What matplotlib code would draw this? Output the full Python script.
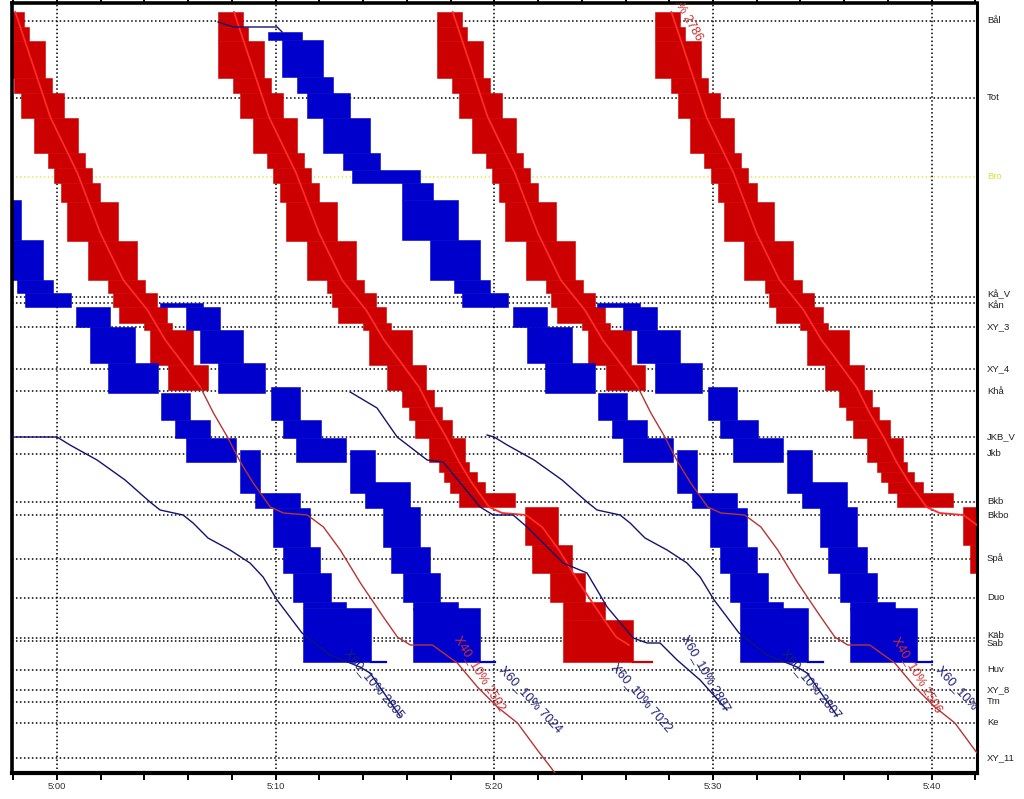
import matplotlib
matplotlib.use('Agg')
import matplotlib.pyplot as plt
from matplotlib.patches import Rectangle
from matplotlib.ticker import MultipleLocator
from matplotlib.transforms import blended_transform_factory

plt.rcParams['font.family'] = ['Liberation Sans', 'DejaVu Sans']

# ---------------- stations (position along the line, top = Bål) -------------
STATIONS = ['Bål', 'Tot', 'Bro', 'Kå_V', 'Kån', 'XY_3', 'XY_4', 'Khå', 'JKB_V',
            'Jkb', 'Bkb', 'Bkbo', 'Spå', 'Duo', 'Käb', 'Sab', 'Huv', 'XY_8',
            'Tm', 'Ke', 'XY_11']
STATION_POS = [20.5, 98, 176.5, 296.5, 303, 327, 369, 391, 436.5, 454, 501.5,
               515, 558.5, 598, 638, 641, 670, 689.5, 701.5, 722.5, 757.5]
LABEL_NUDGE = {'Kå_V': -2.5, 'Kån': 2.5, 'Käb': -3.0, 'Sab': 2.0}
HIGHLIGHT_STATION = 'Bro'

# ---------------- time axis (minutes after 5:00) -----------------------------
TICK_MIN = [0, 10, 20, 30, 40]
TICK_LABELS = ['5:00', '5:10', '5:20', '5:30', '5:40']
X_RANGE = (-2.05, 42.07)
POS_RANGE = (773, 3)

# ---------------- X40 (red) blocking times, train leaving Bål 5:07 -----------
RED_TOP   = [12, 27, 41, 78, 93, 118, 153, 168, 183, 202, 241, 280, 293, 307, 323,
             330, 365, 390, 407, 420, 438, 462, 472, 482, 493, 507, 545, 573, 602, 620]
RED_BOT   = [27, 41, 78, 93, 118, 153, 168, 183, 202, 241, 280, 293, 307, 323, 330,
             365, 390, 407, 420, 438, 462, 472, 482, 493, 507, 545, 573, 602, 620, 662]
RED_START = [7.37, 7.37, 7.37, 8.06, 8.38, 8.97, 9.61, 9.89, 10.21, 10.48, 11.44,
             12.36, 12.58, 12.86, 14.00, 14.28, 15.10, 15.78, 16.10, 16.38, 17.02,
             17.48, 17.70, 17.98, 18.39, 21.41, 21.73, 22.55, 23.15, 23.15]
RED_END   = [8.51, 8.74, 9.47, 9.79, 10.34, 10.98, 11.30, 11.62, 11.99, 12.81, 13.68,
             14.05, 14.60, 15.05, 15.28, 16.24, 16.90, 17.25, 17.61, 18.07, 18.67,
             18.85, 19.21, 19.58, 20.95, 22.92, 23.56, 24.15, 25.07, 26.35]
RED_TAIL_END = 27.22

# running line of the X40 trains (same train as above)
RED_PATH_POS = [12, 117, 173, 233, 280, 310, 340, 360, 387, 413, 437, 462, 483, 507,
                513, 515, 527, 550, 583, 617, 637, 645, 645, 663, 687, 707, 723, 750,
                767, 775]
RED_PATH_MIN = [8.10, 9.70, 10.94, 11.99, 13.04, 14.14, 14.96, 15.65, 16.56, 17.16,
                17.80, 18.39, 18.98, 19.76, 20.36, 21.45, 22.19, 22.96, 23.88, 24.93,
                25.57, 26.16, 27.17, 28.31, 29.23, 30.14, 31.06, 31.97, 32.57, 32.84]

# X40 trains: shift from the 5:07 train, number of blocks drawn, path points
RED_SHIFT = [-10, 0, 10, 20]
RED_NBLOCKS = [17, 30, 17, 30]
RED_NPATH = [30, 22, 30, 22]
RED_BRIGHT_UNTIL = 8          # path index where blocking ends for short trains

# ---------------- X60 (blue) long trains from Bål, train leaving 5:09 --------
BLUE_L_TOP   = [32, 40, 77, 93, 118, 153, 170, 183, 200, 240, 280, 293, 307, 327,
                363, 393, 420, 438, 450, 493, 508, 547, 573, 602, 608]
BLUE_L_BOT   = [40, 77, 93, 118, 153, 170, 183, 200, 240, 280, 293, 307, 327, 363,
                393, 420, 438, 462, 493, 508, 547, 573, 602, 608, 662]
BLUE_L_START = [9.66, 10.30, 10.98, 11.44, 12.17, 13.09, 13.50, 15.78, 15.78, 17.06,
                18.16, 18.53, 20.86, 21.50, 22.32, 24.75, 25.39, 25.89, 28.36, 29.04,
                29.87, 30.32, 30.78, 31.24, 31.24]
BLUE_L_END   = [11.21, 12.17, 12.63, 13.41, 14.32, 14.78, 16.61, 17.20, 18.35, 19.35,
                19.81, 20.63, 22.41, 23.56, 24.61, 26.07, 27.00, 28.18, 29.27, 31.10,
                31.56, 32.02, 32.52, 33.21, 34.35]
BLUE_L_TAIL = 35.03
BLUE_L_SHIFT = [-20, 0]

# ---------------- X60 (blue) short trains from Kå_V, train leaving 5:24 ------
BLUE_S_TOP   = [303, 307, 330, 363, 387, 420, 438, 450, 482, 507, 547, 573, 602, 608]
BLUE_S_BOT   = [307, 330, 363, 393, 420, 438, 462, 493, 508, 547, 573, 602, 610, 662]
BLUE_S_START = [24.70, 25.89, 26.53, 27.35, 29.78, 30.32, 30.92, 33.39, 34.07, 34.90,
                35.26, 35.81, 36.27, 36.27]
BLUE_S_END   = [26.67, 27.44, 28.50, 29.50, 31.10, 32.06, 33.21, 34.53, 36.13, 36.59,
                37.05, 37.50, 38.33, 39.33]
BLUE_S_TAIL = 40.02
BLUE_S_SHIFT = [-20, 0]

# ---------------- thin running lines (X60 trains without blocking) ----------
N1_MIN = [-2.05, 0.01, 0.60, 1.84, 3.12, 4.26, 4.72, 5.77, 6.23, 6.91, 7.92, 8.83,
          9.43, 10.07, 11.21, 12.49, 13.86, 14.32, 15.69]
N1_POS = [437, 437, 445, 460, 480, 502, 510, 515, 523, 538, 550, 563, 577, 600,
          633, 655, 667, 673, 716]
N2_MIN = [7.37, 8.06, 10.07, 10.30]
N2_POS = [22, 27, 27, 32]
N3_MIN = [13.41, 14.64, 15.56, 16.93, 17.66, 19.35, 19.95, 20.86, 21.50, 23.15,
          24.24, 25.16, 26.35, 26.99, 27.58, 28.36, 29.41, 30.64]
N3_POS = [392, 408, 437, 460, 462, 507, 515, 515, 527, 563, 573, 607, 638, 643,
          643, 660, 680, 710]
N4_MIN = [19.67, 19.99, 20.59, 21.82, 23.10, 24.24, 24.70, 25.75, 26.21, 26.89,
          27.90, 28.81, 29.41, 30.05, 31.19, 32.47, 33.84, 34.30, 35.68]
N4_POS = [435, 437, 445, 460, 480, 502, 510, 515, 523, 538, 550, 563, 577, 600,
          633, 655, 667, 673, 716]

# ---------------- train labels ----------------------------------------------
LABEL_TEXT = ['X60_10% 2805', 'X40_10% 2502', 'X60_10% 7024', 'X60_10% 7022',
              'X60_10% 2807', 'X60_10% 2807', 'X40_10% 2506', 'X60_10% 7026',
              'X40_10% 2786']
LABEL_MIN = [14.50, 19.35, 21.68, 26.76, 29.64, 34.48, 39.33, 41.66, 28.41]
LABEL_POS = [684, 673, 699, 698, 673, 684, 675, 699, 2]
LABEL_ROT = [-50, -58, -47, -49, -60, -50, -59, -47, -60]
LABEL_KIND = ['X60', 'X40', 'X60', 'X60', 'X60', 'X60', 'X40', 'X60', 'X40']

# ---------------- styles ------------------------------------------------------
RED_FILL = '#cc0000'
RED_LINE = '#ff2a2a'
RED_THIN = '#b83434'
BLUE_FILL = '#0000cc'
NAVY = '#141470'
LABEL_COLOR = {'X60': '#1c1c78', 'X40': '#cc3030'}

fig = plt.figure(figsize=(10.24, 7.99), dpi=100)
ax = fig.add_axes([12 / 1024, 1 - 773 / 799, (977 - 12) / 1024, (773 - 3) / 799])
ax.set_xlim(*X_RANGE)
ax.set_ylim(*POS_RANGE)

# grid
for name, pos in zip(STATIONS, STATION_POS):
    col = '#e8e84a' if name == HIGHLIGHT_STATION else 'black'
    ax.axhline(pos, color=col, lw=1.1, ls=(0, (1, 1.6)), zorder=1)
for t in TICK_MIN:
    ax.axvline(t, color='black', lw=1.1, ls=(0, (1, 1.6)), zorder=1)


def draw_blocks(tops, bots, starts, ends, shift, n, color):
    for i in range(n):
        ax.add_patch(Rectangle((starts[i] + shift, tops[i]), ends[i] - starts[i],
                               bots[i] - tops[i], facecolor=color, edgecolor=color,
                               lw=0.4, zorder=2))


# red blocking stairs and running lines
for shift, nb, npth in zip(RED_SHIFT, RED_NBLOCKS, RED_NPATH):
    draw_blocks(RED_TOP, RED_BOT, RED_START, RED_END, shift, nb, RED_FILL)
    xs = [m + shift for m in RED_PATH_MIN[:npth]]
    ys = RED_PATH_POS[:npth]
    if nb == len(RED_TOP):
        ax.plot([RED_END[-1] + shift, RED_TAIL_END + shift], [RED_BOT[-1]] * 2,
                color=RED_FILL, lw=1.6, zorder=2)
        ax.plot(xs, ys, color=RED_LINE, lw=1.3, zorder=3)
    else:
        k = RED_BRIGHT_UNTIL
        ax.plot(xs[:k + 1], ys[:k + 1], color=RED_LINE, lw=1.3, zorder=3)
        ax.plot(xs[k:], ys[k:], color=RED_THIN, lw=1.0, zorder=3)

# blue blocking stairs
for shift in BLUE_L_SHIFT:
    draw_blocks(BLUE_L_TOP, BLUE_L_BOT, BLUE_L_START, BLUE_L_END, shift,
                len(BLUE_L_TOP), BLUE_FILL)
    ax.plot([BLUE_L_END[-1] + shift, BLUE_L_TAIL + shift], [BLUE_L_BOT[-1]] * 2,
            color=BLUE_FILL, lw=1.6, zorder=2)
for shift in BLUE_S_SHIFT:
    draw_blocks(BLUE_S_TOP, BLUE_S_BOT, BLUE_S_START, BLUE_S_END, shift,
                len(BLUE_S_TOP), BLUE_FILL)
    ax.plot([BLUE_S_END[-1] + shift, BLUE_S_TAIL + shift], [BLUE_S_BOT[-1]] * 2,
            color=BLUE_FILL, lw=1.6, zorder=2)

# thin navy running lines
for xs, ys in [(N1_MIN, N1_POS), (N2_MIN, N2_POS), (N3_MIN, N3_POS), (N4_MIN, N4_POS)]:
    ax.plot(xs, ys, color=NAVY, lw=1.0, zorder=3)

# train labels
for txt, m, p, r, kind in zip(LABEL_TEXT, LABEL_MIN, LABEL_POS, LABEL_ROT, LABEL_KIND):
    ax.text(m, p, txt, rotation=r, rotation_mode='anchor', ha='center', va='center',
            fontsize=9, color=LABEL_COLOR[kind], zorder=4, clip_on=True)

# station names on the right
trans = blended_transform_factory(ax.transAxes, ax.transData)
for name, pos in zip(STATIONS, STATION_POS):
    col = '#d8e040' if name == HIGHLIGHT_STATION else '#202020'
    ax.text(1.0104, pos + LABEL_NUDGE.get(name, 0), name, transform=trans,
            fontsize=6.8, va='center', ha='left', color=col, clip_on=False)

# axes styling
ax.set_yticks([])
ax.set_xticks(TICK_MIN)
ax.set_xticklabels(TICK_LABELS)
ax.xaxis.set_minor_locator(MultipleLocator(2))
ax.tick_params(axis='x', which='both', direction='out', length=5, width=1.4,
               labelsize=6.8, pad=1.5, top=True, labelcolor='#303030')
for side, lw in [('left', 2.6), ('right', 2.2), ('top', 2.6), ('bottom', 3.0)]:
    ax.spines[side].set_linewidth(lw)
    ax.spines[side].set_color('black')

fig.savefig('out.png', dpi=100, facecolor='white')
